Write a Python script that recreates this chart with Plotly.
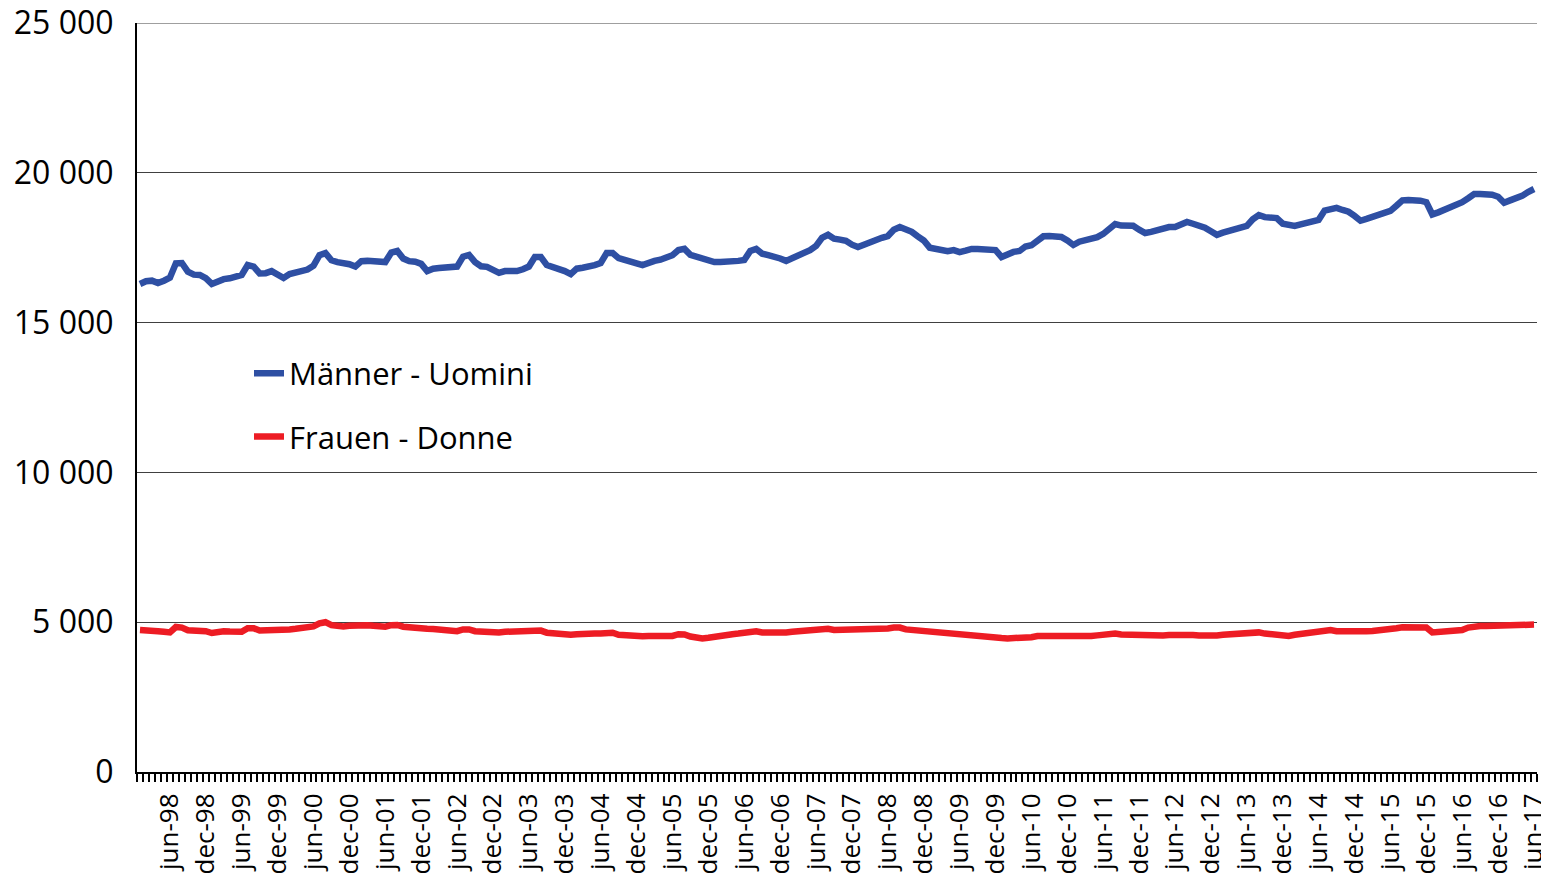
"""
Employees by gender, monthly Jan 1998 - Jun 2017 (Männer / Frauen)
"""

import plotly.graph_objects as go

MONTHS = ["jan", "feb", "mar", "apr", "may", "jun", "jul", "aug", "sep", "oct", "nov", "dec"]
YEARS = [f"{y:02d}" for y in list(range(98, 100)) + list(range(0, 18))]

# category labels, Jan 1998 .. Jun 2017
months = [f"{m}-{y}" for y in YEARS for m in MONTHS][:234]

men = [
    16290, 16380, 16400, 16320, 16400, 16500, 16980, 16990, 16700, 16600, 16590, 16480,  # 1998
    16290, 16380, 16450, 16480, 16520, 16590, 16920, 16870, 16640, 16650, 16720, 16620,  # 1999
    16490, 16620, 16680, 16730, 16770, 16900, 17250, 17320, 17080, 17020, 16990, 16950,  # 2000
    16870, 17050, 17060, 17060, 17040, 17020, 17340, 17390, 17140, 17050, 17030, 16960,  # 2001
    16720, 16800, 16820, 16820, 16840, 16870, 17200, 17260, 17020, 16880, 16860, 16760,  # 2002
    16660, 16720, 16720, 16720, 16780, 16870, 17190, 17190, 16920, 16870, 16820, 16720,  # 2003
    16620, 16800, 16830, 16860, 16920, 16990, 17320, 17320, 17150, 17090, 17060, 16980,  # 2004
    16920, 17000, 17060, 17100, 17150, 17250, 17420, 17460, 17260, 17200, 17180, 17100,  # 2005
    17020, 17020, 17020, 17030, 17060, 17090, 17390, 17460, 17300, 17250, 17220, 17140,  # 2006
    17060, 17150, 17240, 17320, 17420, 17560, 17830, 17930, 17800, 17770, 17730, 17600,  # 2007
    17520, 17600, 17690, 17760, 17830, 17890, 18100, 18190, 18100, 18030, 17880, 17740,  # 2008
    17500, 17460, 17460, 17380, 17420, 17350, 17400, 17460, 17460, 17430, 17420, 17420,  # 2009
    17190, 17300, 17360, 17390, 17540, 17580, 17700, 17880, 17890, 17880, 17860, 17740,  # 2010
    17590, 17700, 17750, 17780, 17850, 17960, 18150, 18290, 18240, 18230, 18230, 18100,  # 2011
    17990, 18030, 18090, 18140, 18190, 18190, 18300, 18360, 18300, 18250, 18170, 18050,  # 2012
    17930, 18000, 18060, 18120, 18160, 18230, 18450, 18590, 18520, 18490, 18490, 18300,  # 2013
    18240, 18230, 18280, 18330, 18380, 18430, 18740, 18800, 18830, 18760, 18700, 18560,  # 2014
    18400, 18460, 18520, 18570, 18640, 18730, 18900, 19080, 19090, 19090, 19070, 19020,  # 2015
    18610, 18680, 18760, 18830, 18950, 19020, 19150, 19290, 19290, 19290, 19270, 19200,  # 2016
    19000, 19080, 19130, 19230, 19360, 19460,                                            # 2017
]

women = [
    4740, 4740, 4720, 4700, 4680, 4660, 4840, 4820, 4730, 4720, 4720, 4700,  # 1998
    4640, 4680, 4700, 4690, 4680, 4680, 4800, 4800, 4720, 4720, 4730, 4740,  # 1999
    4750, 4760, 4780, 4800, 4830, 4860, 4960, 5000, 4900, 4860, 4860, 4880,  # 2000
    4900, 4910, 4900, 4880, 4860, 4850, 4900, 4910, 4850, 4820, 4800, 4800,  # 2001
    4780, 4770, 4760, 4740, 4720, 4700, 4760, 4760, 4700, 4680, 4660, 4660,  # 2002
    4660, 4680, 4680, 4680, 4680, 4680, 4720, 4720, 4650, 4620, 4600, 4600,  # 2003
    4580, 4600, 4620, 4620, 4620, 4620, 4660, 4650, 4580, 4560, 4540, 4540,  # 2004
    4530, 4540, 4540, 4540, 4540, 4540, 4600, 4590, 4520, 4480, 4460, 4480,  # 2005
    4520, 4560, 4580, 4600, 4620, 4640, 4700, 4700, 4660, 4650, 4640, 4640,  # 2006
    4660, 4680, 4700, 4700, 4720, 4740, 4780, 4780, 4740, 4740, 4740, 4740,  # 2007
    4750, 4760, 4760, 4770, 4780, 4790, 4820, 4820, 4760, 4740, 4720, 4700,  # 2008
    4680, 4660, 4640, 4600, 4580, 4560, 4570, 4560, 4520, 4500, 4500, 4480,  # 2009
    4470, 4460, 4460, 4470, 4480, 4500, 4540, 4540, 4520, 4520, 4510, 4500,  # 2010
    4500, 4510, 4530, 4540, 4560, 4580, 4620, 4620, 4590, 4580, 4580, 4570,  # 2011
    4560, 4550, 4550, 4560, 4570, 4580, 4600, 4600, 4570, 4560, 4550, 4540,  # 2012
    4560, 4580, 4600, 4610, 4620, 4630, 4660, 4660, 4620, 4600, 4580, 4540,  # 2013
    4540, 4580, 4600, 4620, 4640, 4660, 4720, 4740, 4700, 4690, 4680, 4680,  # 2014
    4690, 4700, 4710, 4720, 4740, 4760, 4800, 4830, 4830, 4830, 4830, 4820,  # 2015
    4660, 4670, 4680, 4690, 4700, 4740, 4820, 4860, 4870, 4870, 4880, 4880,  # 2016
    4880, 4890, 4900, 4920, 4930, 4920,                                      # 2017
]

Y_MAX = 25000

BLUE = "#2E4FA3"
RED = "#ED1C24"
GRID = "#404040"
FONT = "Open Sans, Noto Sans, sans-serif"

x = list(range(len(months)))
# only jun / dec get a label
label_idx = [i for i, m in enumerate(months) if m[:3] in ("jun", "dec")]

fig = go.Figure()
fig.add_trace(go.Scatter(x=x, y=men, mode="lines", name="Männer - Uomini",
                         legendgroup="m", line=dict(color=BLUE, width=6.5)))
fig.add_trace(go.Scatter(x=x, y=women, mode="lines", name="Frauen - Donne",
                         legendgroup="f", line=dict(color=RED, width=6.5)))

# plotly skips the grid line sitting on the top edge, draw it by hand
fig.add_shape(type="line", xref="paper", yref="y", x0=0, x1=1, y0=Y_MAX, y1=Y_MAX,
              line=dict(color=GRID, width=1), layer="below")

# page body keeps an 8px margin, so the figure is sized to fit inside the window
fig.update_layout(
    width=1541,
    height=866,
    margin=dict(l=129, r=12, t=15, b=102),
    plot_bgcolor="white",
    paper_bgcolor="white",
    font=dict(family=FONT, size=30, color="#000000"),
    separators=". ",
    showlegend=True,
    legend=dict(
        x=0.08, y=0.568, xanchor="left", yanchor="top",
        bgcolor="rgba(0,0,0,0)", font=dict(size=31),
        traceorder="grouped", tracegroupgap=20,
    ),
)

fig.update_xaxes(
    range=[-0.5, len(months) - 0.5],
    tickmode="array",
    tickvals=label_idx,
    ticktext=[months[i] for i in label_idx],
    tickangle=-90,
    tickfont=dict(size=26),
    ticks="",
    ticklabelstandoff=9,
    ticklabeloverflow="allow",
    automargin=False,
    minor=dict(tick0=-0.5, dtick=1, ticks="outside", ticklen=8, tickwidth=2, tickcolor="#000000"),
    showgrid=False,
    showline=True,
    linecolor="#000000",
    linewidth=2,
    zeroline=False,
)
fig.update_yaxes(
    range=[0, Y_MAX],
    dtick=5000,
    tickformat=",d",
    tickfont=dict(size=32),
    ticks="",
    ticklabelstandoff=15,
    ticklabeloverflow="allow",
    automargin=False,
    showgrid=True,
    gridcolor=GRID,
    gridwidth=1,
    showline=True,
    linecolor="#000000",
    linewidth=2,
    zeroline=False,
)

fig.write_html("out.html")
